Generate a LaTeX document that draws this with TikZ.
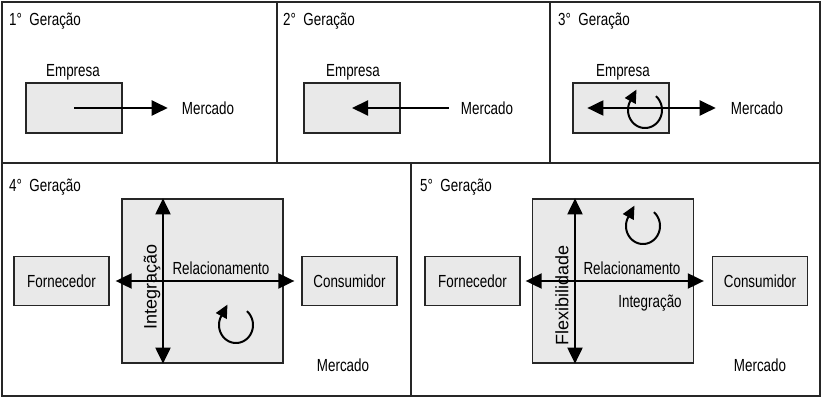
\documentclass[tikz,border=0pt]{standalone}
\usepackage{fontspec}
\setmainfont{Liberation Sans}[FakeStretch=0.766]
\newfontfamily\rotfont{Liberation Sans}
\usetikzlibrary{arrows.meta,calc}
\begin{document}
\begin{tikzpicture}[x=1pt,y=-1pt,
  frame/.style={line width=1.8pt, draw=black!85},
  box/.style={draw=black!85, line width=1.3pt, fill=gray!17, inner sep=0pt},
  sbox/.style={box, minimum width=96pt, minimum height=50pt},
  pbox/.style={box, minimum width=95pt, minimum height=49pt, font=\fontsize{17.5}{20}\selectfont},
  bbox/.style={box, minimum width=161pt, minimum height=164pt},
  lbl/.style={inner sep=0pt, font=\fontsize{17.5}{20}\selectfont},
  rlbl/.style={inner sep=0pt, font=\rotfont\fontsize{18}{21}\selectfont, rotate=90},
  arr/.style={line width=2pt, -{Triangle[length=16pt,width=15pt]}},
  darr/.style={line width=2pt, {Triangle[length=16pt,width=15pt]}-{Triangle[length=16pt,width=15pt]}},
  cyc/.style={line width=2pt, -{Triangle[length=13pt,width=12pt]}}
]
\useasboundingbox (0,0) rectangle (822,398);
% frame
\draw[frame] (2,2) rectangle (820,396);
\draw[frame] (2,163) -- (820,163);
\draw[frame] (277,2) -- (277,163);
\draw[frame] (550,2) -- (550,163);
\draw[frame] (411,163) -- (411,396);

% titles
\node[lbl, anchor=west] (g1) at (9,21) {1°~ Geração};
\node[lbl, anchor=west] (g2) at (283,21) {2°~ Geração};
\node[lbl, anchor=west] (g3) at (558,21) {3°~ Geração};
\node[lbl, anchor=west] (g4) at (9,187) {4°~ Geração};
\node[lbl, anchor=west] (g5) at (420,187) {5°~ Geração};

% panel 1
\node[sbox] (e1) at (74,108) {};
\node[lbl] (le1) at (73,72) {Empresa};
\node[lbl] (m1) at (208,108) {Mercado};
\draw[arr] (e1.center) -- ([xshift=-14pt]m1.west);

% panel 2
\node[sbox] (e2) at (352,108) {};
\node[lbl] (le2) at (353,72) {Empresa};
\node[lbl] (m2) at (487,108) {Mercado};
\draw[arr] ([xshift=-12pt]m2.west) -- (e2.center);

% panel 3
\node[sbox] (e3) at (621,108) {};
\node[lbl] (le3) at (623,72) {Empresa};
\node[lbl] (m3) at (757,108) {Mercado};
\draw[darr] ([xshift=15pt]e3.west) -- ([xshift=-15pt]m3.west);
\coordinate (c3) at (645,110);
\draw[cyc, shift={(c3)}] plot[domain=-50:210, samples=60, smooth] ({17*cos(\x)},{18*sin(\x)}) -- ++(6.2,-11.4);

% panel 4
\node[bbox] (big4) at (202.5,281) {};
\node[pbox] (forn4) at (61.5,281) {Fornecedor};
\node[pbox] (cons4) at (349.5,281) {Consumidor};
\draw[darr] ([xshift=6pt]forn4.east) -- ([xshift=-7pt]cons4.west);
\coordinate (v4) at (163,281);
\draw[darr] (v4 |- big4.north) -- (v4 |- big4.south);
\node[lbl] (rel4) at (221,268) {Relacionamento};
\node[rlbl] (int4) at (152,287) {Integração};
\node[lbl] (mer4) at (343,365) {Mercado};
\coordinate (c4) at (236,325);
\draw[cyc, shift={(c4)}] plot[domain=-50:210, samples=60, smooth] ({17*cos(\x)},{18*sin(\x)}) -- ++(6.2,-11.4);

% panel 5
\node[bbox] (big5) at (613,281) {};
\node[pbox] (forn5) at (472.5,281) {Fornecedor};
\node[pbox] (cons5) at (760,281) {Consumidor};
\draw[darr] ([xshift=5pt]forn5.east) -- ([xshift=-8pt]cons5.west);
\coordinate (v5) at (575,281);
\draw[darr] (v5 |- big5.north) -- (v5 |- big5.south);
\node[lbl] (rel5) at (632,268) {Relacionamento};
\node[lbl] (int5) at (650,303) {Integração};
\node[rlbl] (flex5) at (562,295) {Flexibilidade};
\node[lbl] (mer5) at (760,365) {Mercado};
\coordinate (c5) at (643,226);
\draw[cyc, shift={(c5)}] plot[domain=-50:210, samples=60, smooth] ({17*cos(\x)},{18*sin(\x)}) -- ++(6.2,-11.4);
\end{tikzpicture}
\end{document}
